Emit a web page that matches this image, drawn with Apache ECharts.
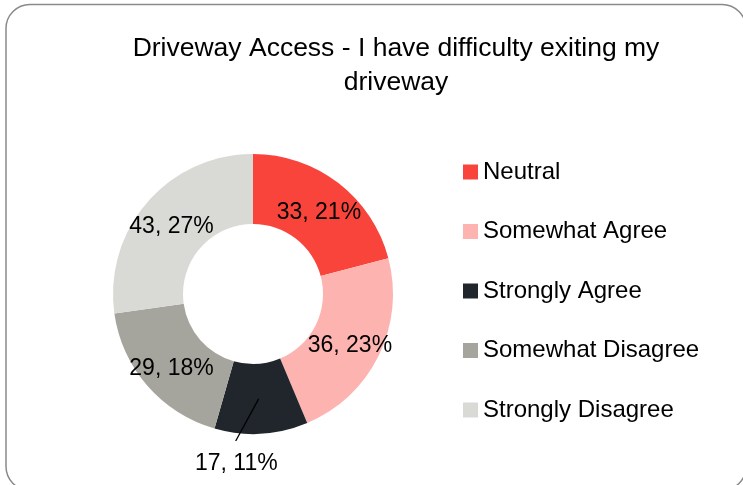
<!DOCTYPE html>
<html>
<head>
<meta charset="utf-8">
<script src="https://cdn.jsdelivr.net/npm/echarts@6/dist/echarts.min.js"></script>
<style>
  html, body { margin: 0; padding: 0; background: #fff; }
  #main { width: 743px; height: 485px; }
</style>
</head>
<body>
<div id="main"></div>
<script>
// answers, in the order they go round the ring from 12 o'clock
var categories = ['Neutral', 'Somewhat Agree', 'Strongly Agree', 'Somewhat Disagree', 'Strongly Disagree'];
var counts = [33, 36, 17, 29, 43];
var sliceColors = ['#F9443C', '#FDB3B0', '#21262D', '#A6A59D', '#D9D9D5'];
var titleLines = ['Driveway Access - I have difficulty exiting my', 'driveway'];

var font = 'Liberation Sans';
var chart = echarts.init(document.getElementById('main'));

// the small slice gets its label outside, with a slanted line from the middle of the ring
var outsideIdx = 2;

var ringData = categories.map(function (name, i) {
  return {
    name: name,
    value: counts[i],
    itemStyle: { color: sliceColors[i] },
    label: { show: i !== outsideIdx }
  };
});

// invisible small pie, shifted/rotated so its radial leader line for the
// small slice starts mid-ring and leans left like the original
var helperData = categories.map(function (name, i) {
  return {
    name: name,
    value: counts[i],
    label: { show: i === outsideIdx }
  };
});

chart.setOption({
  backgroundColor: '#fff',
  animation: false,
  graphic: [{
    type: 'rect',
    shape: { x: 6, y: 4.5, width: 740, height: 486, r: 24 },
    style: { fill: 'none', stroke: '#8a8a8a', lineWidth: 1.5 },
    z: -1
  }],
  title: {
    text: titleLines.join('\n'),
    left: 391,
    textAlign: 'center',
    top: 27,
    textStyle: { fontFamily: font, fontSize: 26.5, fontWeight: 'normal', color: '#000', lineHeight: 34 }
  },
  legend: {
    orient: 'vertical',
    left: 458,
    top: 155,
    data: categories,
    icon: 'rect',
    itemWidth: 15,
    itemHeight: 15,
    itemGap: 35.5,
    textStyle: { fontFamily: font, fontSize: 24, color: '#000', lineHeight: 24 }
  },
  series: [
    {
      type: 'pie',
      center: [253, 294],
      radius: [70, 140],
      startAngle: 90,
      clockwise: true,
      percentPrecision: 0,
      silent: true,
      data: ringData,
      label: {
        position: 'inside',
        formatter: '{c}, {d}%',
        fontFamily: font,
        fontSize: 23,
        color: '#000',
        offset: [0, 4]
      },
      labelLine: { show: false }
    },
    {
      type: 'pie',
      center: [277.8, 363.7],
      radius: [0, 40],
      startAngle: 58,
      clockwise: true,
      percentPrecision: 0,
      silent: true,
      z: 3,
      data: helperData,
      itemStyle: { color: 'rgba(0,0,0,0)' },
      label: {
        position: 'outside',
        formatter: '{c}, {d}%',
        fontFamily: font,
        fontSize: 23,
        color: '#000'
      },
      labelLine: {
        show: true,
        length: 48,
        length2: 0,
        lineStyle: { color: '#000', width: 1.3 }
      },
      labelLayout: function (params) {
        if (params.dataIndex === outsideIdx) {
          return { dx: 47, dy: 23 };
        }
      }
    }
  ]
});
</script>
</body>
</html>
